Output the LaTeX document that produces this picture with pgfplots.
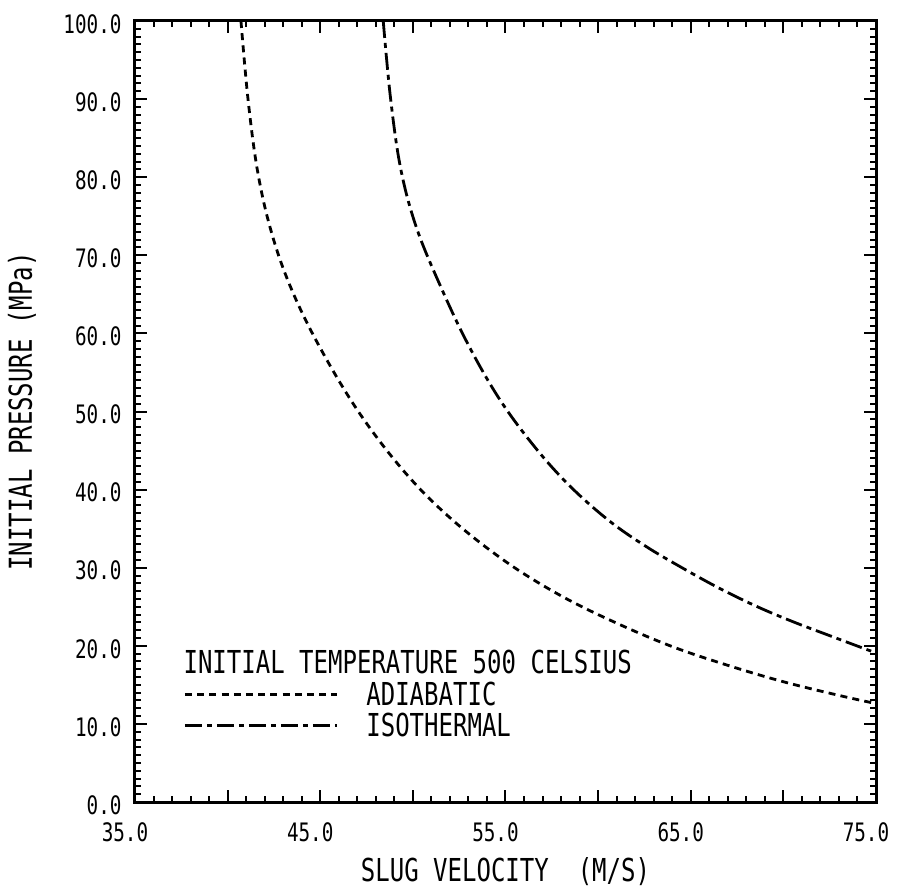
\documentclass[border=0pt]{standalone}
\usepackage{fontspec}
\setmainfont{DejaVu Sans Mono}[FakeStretch=0.76]
\usepackage{pgfplots}
\pgfplotsset{compat=1.18}

\begin{document}
\fontsize{15.8pt}{18pt}\selectfont
\begin{tikzpicture}
\useasboundingbox (-67.5pt,-44pt) rectangle (382pt,401pt);
\begin{axis}[
  scale only axis, width=370.5pt, height=390.5pt,
  xmin=35, xmax=75, ymin=0, ymax=100,
  axis line style={line width=1.5pt},
  tick align=inside,
  major tick length=6pt, minor tick length=3pt,
  every tick/.style={black, line width=1pt},
  xtick={35,40,...,75},
  xticklabels={35.0,,45.0,,55.0,,65.0,,75.0},
  minor x tick num=4,
  ytick={0,10,...,100},
  yticklabels={0.0,10.0,20.0,30.0,40.0,50.0,60.0,70.0,80.0,90.0,100.0},
  minor y tick num=9,
  tick label style={font=\fontsize{12.7pt}{14pt}\selectfont},
  xticklabel style={anchor=center, inner sep=0pt, yshift=-15pt, xshift=-5pt},
  yticklabel style={anchor=east, inner sep=0pt, xshift=-6.5pt, yshift=-1.5pt},
  xlabel={SLUG VELOCITY~~(M/S)},
  ylabel={INITIAL PRESSURE (MPa)},
  xlabel style={at={(axis description cs:0.5,-0.0896)}, anchor=center, inner sep=0pt},
  ylabel style={at={(axis description cs:-0.1525,0.5)}, anchor=center, inner sep=0pt},
  legend image code/.code={\draw[#1] (0pt,0pt) -- (76pt,0pt); \path (90pt,0pt);},
  legend style={at={(axis cs:37.6,15.3)}, anchor=north west, draw=none, fill=none,
    inner sep=0pt, row sep=4pt,
    nodes={inner sep=0pt, text height=11.5pt, text depth=0pt}},
  legend cell align=left,
]
% adiabatic
\addplot[black, line width=1.4pt, dash pattern=on 3.5pt off 2.6pt, smooth, tension=0.6]
  coordinates {(40.72,100) (41.1,90) (41.6,81) (42.3,73.5) (43.3,66.5)
  (44.8,59) (47,50.2) (49.5,42.4) (52,36.4) (55,30.8) (58,26.4) (61,22.9)
  (64,19.9) (67,17.5) (70,15.4) (73,13.65) (75,12.6)};
\addlegendentry{ADIABATIC}
% isothermal
\addplot[black, line width=1.4pt, dash pattern=on 8.5pt off 2.5pt on 2.5pt off 2.5pt, smooth, tension=0.6]
  coordinates {(48.4,100) (48.8,90) (49.35,81) (50.2,73.5) (51.5,66) (53,58.5)
  (54.7,51.5) (56.6,45.4) (58.5,40.4) (60.6,36.0) (62.6,32.7) (64.6,29.9)
  (66.6,27.3) (68.6,25.0) (70.5,23.1) (72.5,21.3) (74.3,19.7) (75,19.1)};
\addlegendentry{ISOTHERMAL}
\node[anchor=west, inner sep=0pt] at (axis cs:37.6,17.9) {INITIAL TEMPERATURE 500 CELSIUS};
\end{axis}
\end{tikzpicture}
\end{document}
